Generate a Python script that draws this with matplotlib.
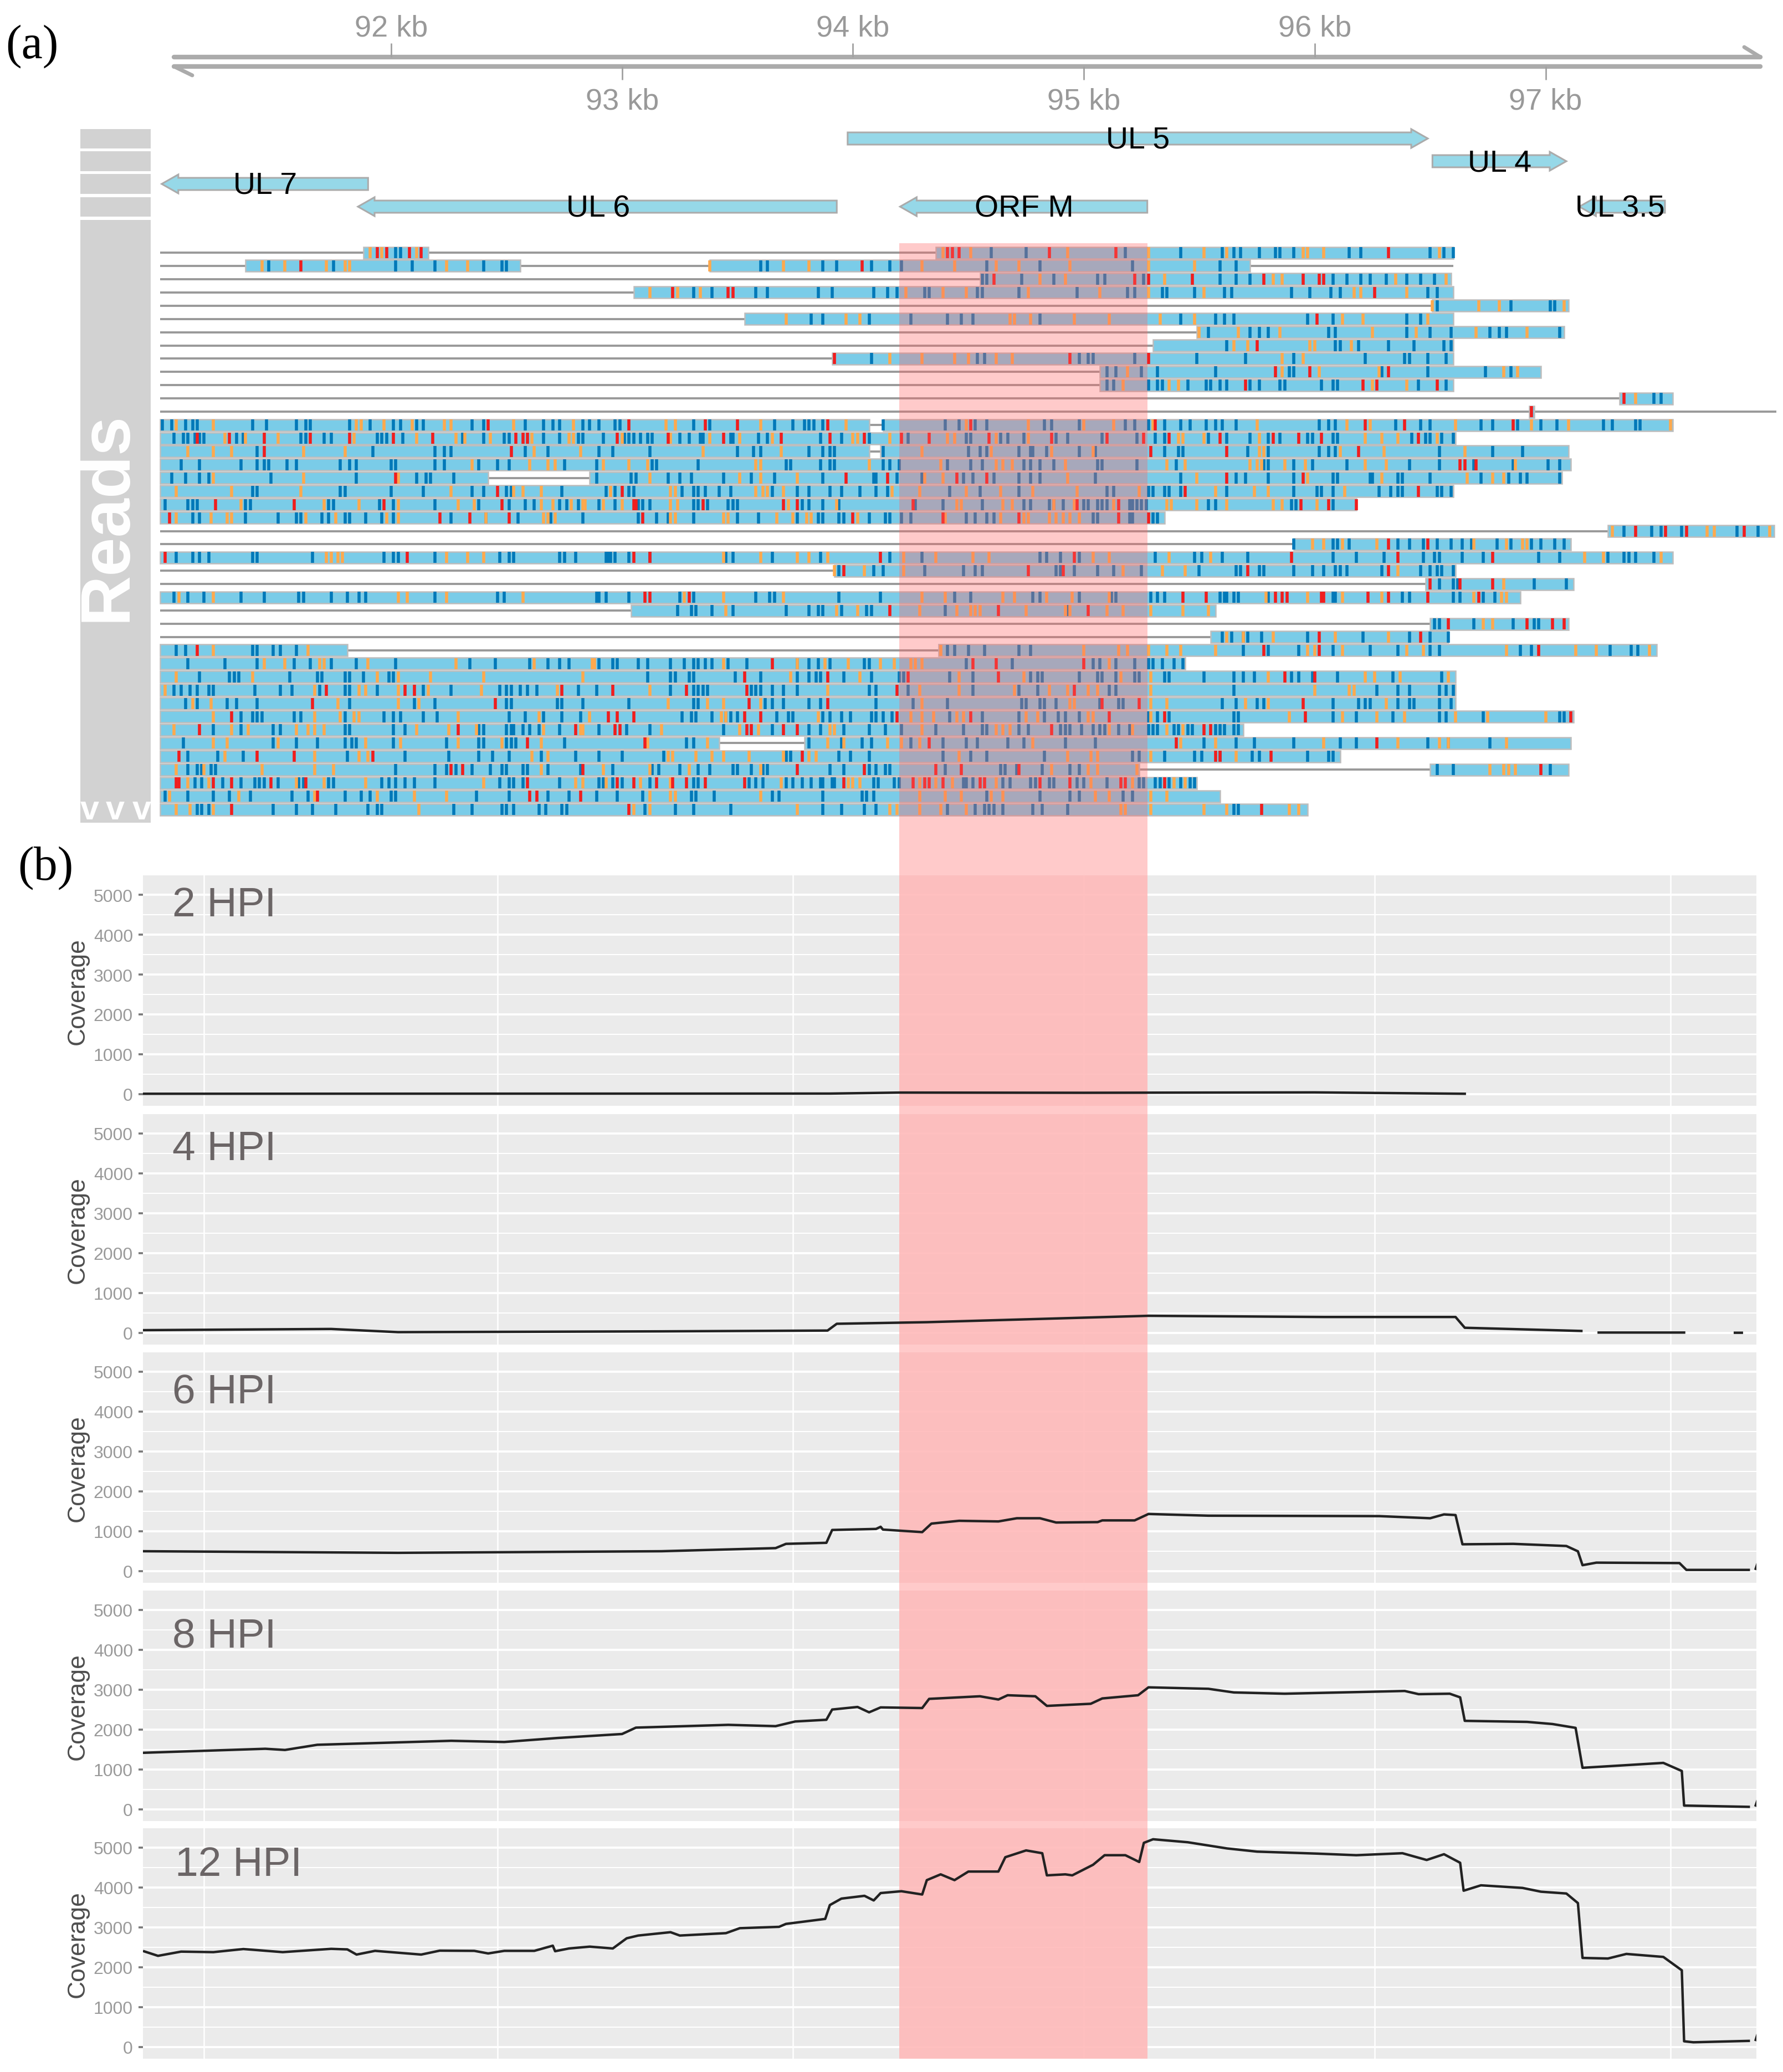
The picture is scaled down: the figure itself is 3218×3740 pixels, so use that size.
import numpy as np
import matplotlib
matplotlib.use("Agg")
import matplotlib.pyplot as plt

plt.rcParams['font.family'] = ['Liberation Sans', 'DejaVu Sans']

W, H = 3218, 3741
PX_PER_KB = 416.7
KB_LEFT = 92 - 706 / PX_PER_KB
KB_RIGHT = 92 + (W - 706) / PX_PER_KB

# genes
gene_names = ["UL 7", "UL 6", "UL 5", "UL 4", "ORF M", "UL 3.5"]
gene_tails = [91.90, 93.93, 93.977, 96.51, 95.275, 97.517]
gene_tips = [91.006, 91.856, 96.49, 97.09, 94.204, 97.146]
gene_tracks = [2, 3, 0, 1, 3, 3]
gene_label_x = [91.454, 92.896, 95.234, 96.80, 94.741, 97.323]

axis_ticks_top = [92, 94, 96]
axis_ticks_bottom = [93, 95, 97]

# position of the reads, in tens of bp (9101 = 91.01 kb)
block_rows = [0, 0, 1, 1, 2, 3, 4, 5, 6, 7, 8, 9, 10, 11, 12, 13, 13, 14, 15, 15, 16, 17, 17, 18, 19, 20, 21, 22, 23, 24,
              25, 26, 27, 28, 29, 30, 30, 31, 32, 33, 34, 35, 36, 37, 37, 38, 39, 39, 40, 41, 42]
block_starts = [9188, 9436, 9137, 9338, 9455, 9305, 9651, 9353, 9549, 9530, 9391, 9507, 9507, 9732, 9693, 9100, 9413,
                9100, 9100, 9412, 9100, 9100, 9286, 9100, 9100, 9100, 9727, 9591, 9100, 9392, 9648, 9100, 9304, 9650,
                9555, 9100, 9437, 9100, 9100, 9100, 9100, 9100, 9100, 9100, 9379, 9100, 9100, 9650, 9100, 9100, 9100]
block_ends = [9216, 9660, 9256, 9572, 9659, 9660, 9710, 9660, 9708, 9660, 9660, 9698, 9660, 9755, 9695, 9407, 9755,
              9661, 9407, 9710, 9711, 9242, 9707, 9660, 9618, 9535, 9799, 9711, 9755, 9661, 9712, 9689, 9557, 9710,
              9658, 9181, 9748, 9544, 9661, 9661, 9661, 9712, 9569, 9342, 9711, 9611, 9524, 9710, 9549, 9559, 9597]
backbone_ends = [9660, 9660, 9659, 9660, 9710, 9660, 9708, 9660, 9660, 9698, 9660, 9755, 9800, 9755, 9661, 9710, 9711,
                 9707, 9660, 9618, 9535, 9799, 9711, 9755, 9661, 9712, 9689, 9557, 9710, 9658, 9748, 9544, 9661, 9661,
                 9661, 9712, 9569, 9711, 9611, 9710, 9549, 9559, 9597]

blue_ticks = {
    0: [9202, 9204, 9460, 9475, 9518, 9542, 9560, 9565, 9568, 9576, 9583, 9585, 9591, 9615, 9620, 9650, 9656, 9660],
    1: [9147, 9175, 9202, 9209, 9219, 9240, 9248, 9250, 9360, 9363, 9387, 9393, 9408, 9416, 9421, 9458, 9481, 9521, 9559, 9566],
    2: [9456, 9458, 9473, 9487, 9506, 9509, 9526, 9559, 9566, 9572, 9608, 9614, 9620, 9624, 9631, 9640, 9646, 9652],
    3: [9331, 9339, 9358, 9363, 9385, 9391, 9409, 9415, 9419, 9431, 9433, 9454, 9456, 9472, 9497, 9519, 9522, 9534, 9536, 9548, 9561, 9564, 9590, 9598, 9607, 9611, 9649, 9653],
    4: [9653, 9685, 9702, 9704],
    5: [9382, 9387, 9407, 9425, 9441, 9447, 9452, 9481, 9542, 9557, 9561, 9565, 9597, 9608, 9640, 9646],
    6: [9554, 9572, 9576, 9580, 9606, 9609, 9640, 9650, 9659, 9676, 9680, 9683, 9706],
    7: [9562, 9609, 9611, 9619, 9632, 9643, 9656, 9659],
    8: [9408, 9454, 9457, 9498, 9502, 9504, 9522, 9549, 9570, 9591, 9622, 9639, 9641, 9649, 9657],
    9: [9510, 9514, 9525, 9532, 9557, 9589, 9591, 9629, 9649, 9674, 9685],
    10: [9510, 9513, 9528, 9532, 9534, 9545, 9553, 9555, 9559, 9562, 9572, 9576, 9585, 9587, 9603, 9608, 9610, 9645, 9657],
    11: [9747, 9750],
    13: [9101, 9105, 9111, 9114, 9116, 9140, 9146, 9159, 9163, 9165, 9182, 9191, 9201, 9204, 9211, 9214, 9235, 9240, 9258, 9266, 9270, 9273, 9283, 9286, 9290, 9297, 9299, 9331, 9338, 9366, 9374, 9379, 9381, 9383, 9387, 9413, 9440, 9446, 9453, 9458, 9483, 9486, 9498, 9518, 9522, 9528, 9535, 9542, 9546, 9553, 9557, 9560, 9566, 9602, 9606, 9609, 9635, 9646, 9650, 9672, 9677, 9688, 9698, 9705, 9725, 9729, 9739, 9741],
    14: [9106, 9110, 9112, 9115, 9117, 9119, 9133, 9136, 9161, 9163, 9171, 9174, 9194, 9196, 9198, 9205, 9231, 9240, 9249, 9251, 9266, 9273, 9281, 9283, 9292, 9301, 9303, 9305, 9308, 9311, 9313, 9325, 9329, 9334, 9335, 9347, 9348, 9359, 9363, 9386, 9395, 9407, 9424, 9449, 9451, 9464, 9467, 9474, 9488, 9493, 9508, 9523, 9531, 9535, 9554, 9562, 9572, 9580, 9585, 9597, 9599, 9608, 9610, 9642, 9648, 9650, 9655, 9660],
    15: [9142, 9192, 9219, 9223, 9226, 9258, 9268, 9290, 9296, 9312, 9350, 9357, 9360, 9381, 9387, 9390, 9392, 9413, 9450, 9455, 9458, 9472, 9477, 9478, 9484, 9498, 9505, 9535, 9541, 9543, 9571, 9580, 9602, 9606, 9609, 9654, 9677, 9690],
    16: [9109, 9117, 9135, 9142, 9145, 9147, 9155, 9159, 9178, 9182, 9185, 9200, 9202, 9219, 9223, 9238, 9246, 9251, 9275, 9289, 9313, 9315, 9333, 9371, 9373, 9386, 9390, 9392, 9413, 9416, 9420, 9441, 9451, 9456, 9474, 9477, 9481, 9487, 9506, 9508, 9523, 9540, 9578, 9580, 9591, 9599, 9614, 9641, 9654, 9669, 9686, 9701, 9706],
    17: [9105, 9111, 9117, 9121, 9148, 9185, 9211, 9215, 9217, 9227, 9289, 9304, 9306, 9320, 9325, 9330, 9344, 9356, 9366, 9387, 9409, 9410, 9419, 9430, 9448, 9452, 9461, 9472, 9477, 9481, 9505, 9542, 9566, 9570, 9580, 9591, 9608, 9610, 9624, 9625, 9636, 9638, 9650, 9672, 9684, 9689, 9692, 9706],
    18: [9140, 9142, 9178, 9180, 9200, 9214, 9235, 9240, 9250, 9252, 9274, 9293, 9297, 9303, 9305, 9326, 9331, 9333, 9336, 9342, 9347, 9365, 9376, 9381, 9390, 9395, 9403, 9410, 9415, 9442, 9455, 9472, 9510, 9513, 9528, 9530, 9535, 9537, 9542, 9562, 9591, 9601, 9603, 9608, 9628, 9633, 9636, 9638, 9653, 9655, 9659],
    19: [9102, 9112, 9114, 9116, 9137, 9139, 9173, 9175, 9195, 9201, 9219, 9238, 9251, 9258, 9262, 9273, 9276, 9281, 9290, 9297, 9307, 9309, 9312, 9331, 9333, 9337, 9346, 9348, 9350, 9378, 9381, 9387, 9394, 9427, 9439, 9456, 9474, 9477, 9485, 9487, 9491, 9500, 9502, 9506, 9508, 9510, 9520, 9521, 9523, 9525, 9527, 9554, 9557, 9590, 9592, 9608],
    20: [9114, 9117, 9137, 9151, 9159, 9161, 9170, 9173, 9180, 9182, 9189, 9196, 9201, 9226, 9241, 9255, 9269, 9283, 9307, 9315, 9320, 9331, 9350, 9359, 9376, 9385, 9387, 9394, 9396, 9407, 9414, 9416, 9421, 9425, 9449, 9453, 9458, 9461, 9504, 9506, 9520, 9521, 9530, 9532],
    21: [9734, 9746, 9750, 9759, 9783, 9792],
    22: [9591, 9608, 9610, 9615, 9636, 9641, 9647, 9653, 9659, 9664, 9668, 9679, 9685, 9694, 9698, 9704, 9708],
    23: [9107, 9114, 9117, 9121, 9140, 9142, 9166, 9197, 9201, 9203, 9219, 9247, 9251, 9253, 9273, 9275, 9280, 9294, 9293, 9295, 9297, 9303, 9312, 9345, 9348, 9365, 9386, 9416, 9430, 9481, 9484, 9490, 9498, 9531, 9548, 9551, 9560, 9571, 9608, 9618, 9630, 9647, 9652, 9654, 9664, 9673, 9697, 9706, 9727, 9734, 9736, 9739, 9747],
    24: [9394, 9409, 9413, 9431, 9448, 9453, 9456, 9488, 9490, 9496, 9506, 9513, 9525, 9550, 9566, 9568, 9576, 9578, 9591, 9599, 9604, 9609, 9611, 9614, 9629, 9646, 9650, 9653, 9655, 9660],
    25: [9654, 9660, 9662, 9695, 9709],
    26: [9106, 9112, 9119, 9135, 9145, 9160, 9162, 9174, 9181, 9186, 9189, 9219, 9246, 9249, 9290, 9289, 9293, 9303, 9325, 9331, 9358, 9364, 9366, 9394, 9412, 9444, 9451, 9478, 9481, 9498, 9512, 9514, 9529, 9532, 9535, 9559, 9561, 9562, 9565, 9567, 9580, 9608, 9609, 9638, 9641, 9660, 9663, 9673, 9678],
    27: [9324, 9330, 9332, 9339, 9348, 9371, 9381, 9385, 9387, 9395, 9406, 9408, 9440, 9493],
    28: [9652, 9654, 9669, 9686, 9695, 9697],
    29: [9560, 9564, 9569, 9571, 9577, 9597, 9621, 9641, 9650, 9658],
    30: [9107, 9111, 9140, 9142, 9149, 9152, 9159, 9441, 9444, 9450, 9457, 9472, 9477, 9569, 9580, 9593, 9608, 9624, 9636, 9650, 9654, 9689, 9694, 9728, 9737, 9740],
    31: [9112, 9128, 9142, 9158, 9165, 9174, 9185, 9202, 9234, 9245, 9260, 9268, 9273, 9277, 9290, 9296, 9298, 9307, 9311, 9321, 9327, 9331, 9333, 9336, 9339, 9346, 9354, 9376, 9381, 9385, 9390, 9405, 9407, 9449, 9469, 9504, 9507, 9514, 9522, 9528, 9530, 9534, 9539, 9543],
    32: [9117, 9130, 9132, 9134, 9156, 9168, 9170, 9180, 9182, 9188, 9199, 9201, 9311, 9321, 9323, 9329, 9331, 9349, 9360, 9376, 9381, 9384, 9386, 9396, 9408, 9420, 9422, 9442, 9452, 9477, 9480, 9482, 9498, 9506, 9508, 9514, 9522, 9524, 9535, 9537, 9552, 9565, 9569, 9574, 9590, 9593, 9599, 9610, 9634, 9655],
    33: [9106, 9109, 9113, 9116, 9121, 9123, 9141, 9152, 9157, 9169, 9180, 9182, 9194, 9214, 9226, 9247, 9250, 9252, 9256, 9259, 9263, 9281, 9289, 9321, 9331, 9333, 9335, 9337, 9356, 9358, 9360, 9365, 9370, 9376, 9407, 9410, 9424, 9452, 9472, 9480, 9511, 9514, 9565, 9627, 9636, 9641, 9654, 9657, 9660],
    34: [9111, 9116, 9129, 9133, 9142, 9182, 9210, 9219, 9250, 9252, 9272, 9274, 9283, 9303, 9331, 9333, 9362, 9365, 9370, 9381, 9386, 9410, 9426, 9441, 9473, 9475, 9481, 9483, 9488, 9507, 9515, 9517, 9560, 9566, 9575, 9578, 9608, 9619, 9622, 9624, 9636, 9641, 9643, 9654, 9659],
    35: [9135, 9140, 9142, 9144, 9158, 9161, 9180, 9197, 9201, 9204, 9214, 9220, 9251, 9258, 9266, 9274, 9282, 9326, 9330, 9332, 9339, 9345, 9347, 9350, 9367, 9372, 9374, 9387, 9390, 9395, 9399, 9408, 9410, 9413, 9417, 9442, 9456, 9472, 9483, 9489, 9492, 9498, 9528, 9532, 9537, 9565, 9567, 9608, 9618, 9634, 9654, 9657, 9673, 9706, 9708],
    36: [9123, 9135, 9149, 9152, 9180, 9182, 9201, 9206, 9238, 9240, 9250, 9252, 9253, 9257, 9260, 9264, 9273, 9290, 9302, 9312, 9344, 9365, 9381, 9386, 9396, 9407, 9414, 9421, 9436, 9448, 9456, 9458, 9472, 9476, 9490, 9492, 9494, 9499, 9504, 9507, 9509, 9515, 9520, 9528, 9530, 9532, 9539, 9541, 9545, 9547, 9557, 9559, 9561, 9565, 9567],
    37: [9110, 9149, 9159, 9168, 9180, 9183, 9185, 9201, 9224, 9238, 9240, 9250, 9252, 9254, 9275, 9328, 9331, 9381, 9395, 9404, 9408, 9425, 9439, 9449, 9454, 9467, 9474, 9492, 9505, 9552, 9566, 9574, 9591, 9611, 9618, 9649, 9658, 9676],
    38: [9112, 9125, 9136, 9181, 9206, 9225, 9238, 9244, 9251, 9265, 9280, 9290, 9300, 9318, 9371, 9373, 9394, 9399, 9407, 9439, 9451, 9458, 9483, 9521, 9524, 9535, 9548, 9551, 9559, 9573, 9576, 9597, 9606, 9608],
    39: [9112, 9116, 9118, 9122, 9124, 9202, 9219, 9224, 9228, 9235, 9243, 9248, 9250, 9257, 9259, 9268, 9282, 9296, 9313, 9316, 9325, 9333, 9338, 9348, 9350, 9356, 9361, 9363, 9390, 9396, 9407, 9410, 9414, 9416, 9440, 9464, 9466, 9471, 9482, 9494, 9498, 9653, 9660, 9702],
    40: [9115, 9118, 9127, 9135, 9141, 9143, 9145, 9151, 9160, 9162, 9173, 9175, 9196, 9199, 9202, 9206, 9210, 9219, 9247, 9251, 9253, 9257, 9273, 9290, 9292, 9296, 9300, 9312, 9331, 9333, 9355, 9358, 9361, 9371, 9374, 9378, 9382, 9386, 9387, 9391, 9392, 9409, 9411, 9418, 9420, 9448, 9449, 9452, 9465, 9468, 9477, 9479, 9485, 9487, 9497, 9500, 9510, 9524, 9526, 9531, 9533, 9537, 9542, 9546, 9548],
    41: [9102, 9112, 9123, 9130, 9139, 9157, 9164, 9180, 9187, 9191, 9200, 9202, 9237, 9251, 9268, 9277, 9289, 9298, 9309, 9330, 9332, 9340, 9365, 9368, 9387, 9404, 9406, 9409, 9458, 9481, 9494, 9498, 9517, 9521],
    42: [9116, 9118, 9121, 9149, 9159, 9166, 9176, 9190, 9194, 9196, 9227, 9235, 9248, 9250, 9253, 9264, 9267, 9274, 9276, 9310, 9323, 9331, 9347, 9387, 9395, 9405, 9410, 9441, 9453, 9457, 9459, 9461, 9465, 9478, 9482, 9493, 9565, 9567],
}
orange_ticks = {
    0: [9191, 9196, 9211, 9439, 9451, 9493, 9528, 9552, 9562, 9595, 9597, 9604, 9654],
    1: [9144, 9154, 9172, 9180, 9182, 9224, 9233, 9338, 9370, 9381, 9430, 9444, 9462, 9472, 9494, 9528, 9548],
    2: [9481, 9492, 9535, 9582, 9586, 9635, 9657],
    3: [9312, 9322, 9324, 9334, 9423, 9439, 9449, 9476, 9507, 9528, 9552, 9617, 9620, 9640],
    4: [9651, 9671, 9680, 9708],
    5: [9371, 9397, 9403, 9468, 9470, 9477, 9496, 9511, 9533, 9548, 9612, 9621, 9649],
    6: [9550, 9567, 9585, 9625, 9644, 9670, 9692],
    7: [9565, 9571, 9598, 9600, 9616],
    8: [9416, 9430, 9444, 9450, 9462, 9469, 9586, 9595],
    9: [9519, 9586, 9602, 9628, 9682, 9688],
    10: [9517, 9537, 9541, 9625, 9640],
    11: [9739],
    13: [9107, 9123, 9185, 9187, 9197, 9209, 9223, 9226, 9253, 9279, 9319, 9323, 9360, 9397, 9449, 9476, 9500, 9513, 9530, 9575, 9614, 9624, 9661, 9694, 9710, 9754],
    14: [9128, 9137, 9151, 9184, 9211, 9228, 9232, 9243, 9261, 9277, 9279, 9300, 9321, 9338, 9351, 9365, 9400, 9402, 9416, 9441, 9444, 9462, 9476, 9541, 9543, 9552, 9576, 9622, 9629, 9636, 9653],
    15: [9112, 9123, 9131, 9162, 9180, 9262, 9282, 9335, 9369, 9430, 9460, 9486, 9504, 9576, 9578, 9611, 9630, 9665],
    16: [9235, 9260, 9268, 9271, 9292, 9303, 9311, 9358, 9360, 9407, 9438, 9462, 9465, 9469, 9492, 9536, 9544, 9572, 9575, 9577, 9587, 9596, 9622, 9631, 9687],
    17: [9123, 9162, 9203, 9312, 9351, 9360, 9376, 9431, 9439, 9493, 9549, 9597, 9629, 9666, 9677, 9682],
    18: [9107, 9131, 9161, 9226, 9253, 9257, 9265, 9295, 9321, 9323, 9358, 9361, 9363, 9370, 9417, 9429, 9449, 9464, 9478, 9497, 9524, 9557, 9574, 9580, 9613],
    19: [9135, 9171, 9186, 9203, 9229, 9236, 9265, 9270, 9278, 9284, 9283, 9292, 9300, 9321, 9324, 9372, 9393, 9445, 9447, 9465, 9469, 9487, 9496, 9513, 9536, 9538, 9549, 9562, 9582, 9586, 9601],
    20: [9107, 9122, 9129, 9131, 9163, 9176, 9198, 9203, 9241, 9266, 9268, 9271, 9321, 9323, 9344, 9346, 9367, 9374, 9380, 9382, 9402, 9440, 9464, 9474, 9476, 9485, 9488, 9491, 9494, 9498],
    21: [9729, 9770, 9773, 9797],
    22: [9599, 9604, 9612, 9627, 9669, 9683, 9690, 9692],
    23: [9172, 9174, 9177, 9179, 9224, 9233, 9240, 9344, 9360, 9376, 9381, 9389, 9422, 9436, 9452, 9459, 9504, 9511, 9537, 9555, 9717, 9725, 9750],
    24: [9392, 9405, 9422, 9517, 9534, 9544, 9636],
    25: [9682],
    26: [9108, 9123, 9203, 9207, 9224, 9257, 9327, 9344, 9370, 9430, 9440, 9465, 9470, 9484, 9495, 9511, 9579, 9597, 9612, 9629, 9669, 9681, 9683],
    27: [9345, 9393, 9402, 9429, 9445, 9451, 9453, 9455, 9475, 9492, 9494, 9510, 9517, 9529, 9543, 9554],
    28: [9673, 9677],
    29: [9562, 9569, 9582, 9609, 9632],
    30: [9123, 9116, 9164, 9438, 9500, 9515, 9519, 9528, 9536, 9542, 9557, 9597, 9600, 9612, 9640, 9647, 9683, 9713, 9722, 9745],
    31: [9145, 9154, 9169, 9171, 9190, 9228, 9262, 9288, 9287, 9344, 9376, 9388, 9398, 9412, 9418, 9425, 9427, 9430, 9511],
    32: [9107, 9140, 9194, 9203, 9217, 9240, 9283, 9373, 9403, 9446, 9474, 9516, 9529, 9580, 9622, 9626, 9637, 9658],
    33: [9102, 9167, 9186, 9189, 9203, 9216, 9239, 9272, 9312, 9389, 9429, 9446, 9470, 9485, 9493, 9502, 9506, 9529, 9600, 9615, 9617],
    34: [9114, 9122, 9177, 9203, 9212, 9320, 9337, 9344, 9360, 9430, 9494, 9496, 9529, 9536, 9570, 9580, 9631],
    35: [9123, 9167, 9178, 9184, 9186, 9229, 9264, 9286, 9343, 9345, 9385, 9425, 9430, 9435, 9445, 9448, 9475, 9480, 9502, 9504, 9529, 9589, 9612, 9627, 9639, 9661, 9675, 9700],
    36: [9106, 9131, 9138, 9159, 9164, 9167, 9171, 9211, 9225, 9237, 9266, 9283, 9282, 9317, 9351, 9359, 9390, 9392, 9430, 9462, 9465, 9468, 9511, 9521, 9536, 9543],
    37: [9123, 9129, 9151, 9189, 9204, 9229, 9248, 9265, 9311, 9337, 9389, 9396, 9415, 9421, 9429, 9478, 9542, 9557, 9604, 9636, 9654, 9658, 9683],
    38: [9128, 9167, 9186, 9190, 9261, 9268, 9320, 9322, 9332, 9339, 9344, 9355, 9370, 9381, 9384, 9446, 9493, 9503, 9506, 9529, 9566],
    39: [9107, 9119, 9144, 9167, 9175, 9265, 9292, 9312, 9329, 9360, 9486, 9502, 9506, 9523, 9676, 9682, 9684, 9687],
    40: [9112, 9121, 9159, 9171, 9189, 9240, 9280, 9283, 9293, 9308, 9321, 9369, 9398, 9400, 9403, 9429, 9436, 9443, 9462, 9503, 9521, 9539, 9544],
    41: [9104, 9134, 9167, 9194, 9210, 9224, 9312, 9321, 9323, 9360, 9429, 9440, 9447, 9460, 9465, 9505, 9511, 9529, 9536],
    42: [9107, 9113, 9123, 9212, 9305, 9312, 9376, 9416, 9419, 9429, 9438, 9449, 9516, 9518, 9529, 9552, 9562, 9589, 9593],
}
red_ticks = {
    0: [9194, 9198, 9208, 9213, 9441, 9443, 9446, 9485, 9514, 9632],
    1: [9161, 9404],
    2: [9461, 9522, 9528, 9547, 9578, 9595, 9602, 9604],
    3: [9322, 9346, 9348, 9626],
    5: [9601],
    7: [9575],
    8: [9392, 9494, 9528],
    9: [9583, 9598, 9632],
    10: [9570, 9621, 9627, 9653],
    11: [9734],
    12: [9694],
    13: [9242, 9303, 9336, 9350, 9389, 9451, 9531, 9622, 9639, 9686],
    14: [9116, 9130, 9145, 9165, 9182, 9201, 9218, 9254, 9257, 9259, 9298, 9320, 9344, 9369, 9390, 9405, 9421, 9433, 9459, 9486, 9510, 9526, 9537, 9559, 9582, 9593, 9603, 9645],
    15: [9145, 9252, 9529, 9562, 9619],
    16: [9663, 9665, 9670],
    17: [9202, 9397, 9415, 9445, 9458, 9562, 9595],
    18: [9246, 9300, 9544, 9645],
    19: [9124, 9158, 9197, 9248, 9305, 9306, 9335, 9370, 9376, 9426, 9497, 9515, 9594, 9606, 9618],
    20: [9104, 9221, 9234, 9251, 9309, 9400, 9439, 9472, 9515, 9528],
    21: [9739, 9752, 9761, 9786],
    22: [9632, 9649],
    23: [9102, 9207, 9305, 9312, 9412, 9496, 9590, 9636, 9677],
    24: [9396, 9476, 9491, 9571, 9632],
    25: [9650, 9663, 9677],
    26: [9310, 9312, 9329, 9543, 9553, 9583, 9586, 9588, 9603, 9604, 9623, 9632, 9649, 9671],
    27: [9416, 9463, 9502],
    28: [9658, 9692, 9703, 9708],
    29: [9602, 9646],
    30: [9116, 9578, 9602, 9697],
    31: [9365, 9452, 9462, 9500],
    32: [9353, 9389, 9424, 9463, 9587, 9600],
    33: [9172, 9206, 9210, 9274, 9296, 9328, 9354, 9419, 9496],
    34: [9166, 9245, 9355, 9389, 9508, 9524, 9595],
    35: [9131, 9294, 9298, 9305, 9353, 9360, 9419, 9451, 9511, 9535, 9596, 9711],
    36: [9117, 9229, 9280, 9297, 9299, 9354, 9356, 9370, 9376, 9486, 9552, 9555],
    37: [9259, 9310, 9433, 9540, 9627],
    38: [9108, 9142, 9158, 9192, 9378, 9557, 9559, 9581],
    39: [9226, 9231, 9283, 9376, 9405, 9436, 9447, 9472, 9698],
    40: [9107, 9108, 9123, 9131, 9148, 9163, 9259, 9298, 9305, 9315, 9322, 9328, 9336, 9353, 9396, 9426, 9431, 9433, 9439, 9455, 9457, 9481, 9494, 9516, 9518, 9535],
    41: [9168, 9260, 9263, 9282],
    42: [9131, 9303, 9577],
}

# coverage curves
hpi_names = ["2 HPI", "4 HPI", "6 HPI", "8 HPI", "12 HPI"]
label_values = [4750, 4620, 4480, 4350, 4580]

cov2_x = [90.93, 93.9, 94.2, 95.0, 96.0, 96.65]
cov2_y = [10, 15, 40, 35, 45, 10]

cov4_x = [90.93, 91.74, 92.03, 93.17, 93.89, 93.93, 94.32, 95.28, 96.04, 96.61, 96.65, 97.155, np.nan, 97.23, 97.60, np.nan, 97.82, 97.85]
cov4_y = [70, 100, 20, 40, 60, 230, 270, 430, 400, 400, 130, 50, np.nan, 10, 10, np.nan, 5, 5]

cov6_x = [90.93, 92.03, 93.17, 93.665, 93.71, 93.885, 93.91, 94.10, 94.12, 94.13, 94.30, 94.34, 94.46, 94.63, 94.71, 94.81, 94.88, 95.06, 95.08, 95.22, 95.28, 95.54, 96.28, 96.50, 96.56, 96.61, 96.64, 96.86, 97.09, 97.14, 97.16, 97.22, 97.58, 97.61, 97.88, np.nan, 97.91, 97.92]
cov6_y = [500, 460, 500, 578, 685, 711, 1033, 1059, 1113, 1043, 979, 1193, 1263, 1247, 1327, 1327, 1220, 1230, 1273, 1273, 1434, 1391, 1380, 1327, 1423, 1407, 674, 685, 631, 498, 150, 214, 203, 32, 32, np.nan, 60, 230]

cov8_x = [90.93, 91.455, 91.54, 91.68, 92.26, 92.49, 92.72, 93.00, 93.06, 93.46, 93.665, 93.75, 93.885, 93.91, 94.02, 94.07, 94.12, 94.30, 94.33, 94.55, 94.63, 94.67, 94.79, 94.84, 95.03, 95.08, 95.235, 95.28, 95.54, 95.65, 95.87, 96.39, 96.45, 96.585, 96.63, 96.65, 96.92, 97.03, 97.13, 97.16, 97.36, 97.51, 97.59, 97.60, 97.88, np.nan, 97.91, 97.92]
cov8_y = [1420, 1520, 1490, 1620, 1720, 1690, 1790, 1890, 2050, 2120, 2087, 2204, 2247, 2504, 2568, 2434, 2557, 2541, 2771, 2836, 2755, 2862, 2836, 2595, 2648, 2782, 2862, 3060, 3023, 2932, 2900, 2969, 2889, 2900, 2809, 2220, 2194, 2140, 2044, 1043, 1113, 1166, 963, 96, 64, np.nan, 100, 267]

cov12_x = [90.93, 90.99, 91.09, 91.23, 91.36, 91.53, 91.74, 91.81, 91.85, 91.93, 92.13, 92.21, 92.36, 92.42, 92.49, 92.62, 92.70, 92.71, 92.77, 92.86, 92.96, 93.02, 93.07, 93.21, 93.25, 93.45, 93.51, 93.68, 93.71, 93.88, 93.90, 93.95, 94.05, 94.09, 94.12, 94.21, 94.30, 94.32, 94.38, 94.44, 94.50, 94.63, 94.66, 94.75, 94.82, 94.84, 94.92, 94.95, 95.04, 95.09, 95.18, 95.24, 95.26, 95.30, 95.45, 95.62, 95.75, 96.01, 96.18, 96.38, 96.485, 96.56, 96.63, 96.645, 96.72, 96.90, 96.98, 97.09, 97.14, 97.16, 97.27, 97.35, 97.51, 97.59, 97.60, 97.64, 97.88, np.nan, 97.91, 97.92]
cov12_y = [2400, 2287, 2393, 2380, 2458, 2380, 2463, 2449, 2319, 2412, 2319, 2417, 2412, 2347, 2412, 2412, 2542, 2403, 2472, 2518, 2472, 2727, 2796, 2880, 2796, 2856, 2981, 3014, 3088, 3213, 3560, 3722, 3792, 3676, 3861, 3907, 3825, 4185, 4330, 4185, 4400, 4400, 4760, 4930, 4860, 4305, 4330, 4305, 4570, 4810, 4810, 4640, 5120, 5210, 5135, 4980, 4900, 4850, 4810, 4860, 4690, 4835, 4620, 3920, 4055, 3990, 3895, 3850, 3610, 2235, 2220, 2335, 2260, 1925, 145, 120, 155, np.nan, 180, 360]

cov_x = [cov2_x, cov4_x, cov6_x, cov8_x, cov12_x]
cov_y = [cov2_y, cov4_y, cov6_y, cov8_y, cov12_y]
grid_kb = [91.19, 92.46, 93.74, 95.0, 96.26, 97.54]
y_ticks = [0, 1000, 2000, 3000, 4000, 5000]
y_minor = [500, 1500, 2500, 3500, 4500]
band_start, band_end = 94.20, 95.275

# layout in pixels
ROW0 = 457
ROW_STEP = 23.93
TRACK_Y = [251, 292, 333, 374]
PANEL_ZERO = [1976, 2407, 2837, 3267, 3696]
PANEL_LEFT, PANEL_RIGHT = 258, 3170
PX_PER_UNIT = 0.072
SIDE_TOPS = [234, 274, 315, 357, 398]
SIDE_BOTTOMS = [269, 310, 351, 392, 1486]


def kb(px):
    return 92 + (px - 706) / PX_PER_KB


def row_y(row):
    return ROW0 + ROW_STEP * np.asarray(row)


def draw_gene(ax, tail, tip, y):
    # arrow polygon, the head has a fixed length on the page
    d = 1 if tip > tail else -1
    head = d * 30 / PX_PER_KB
    xs = [tail, tip - head, tip - head, tip, tip - head, tip - head, tail]
    ys = [y - 11, y - 11, y - 17, y, y + 17, y + 11, y + 11]
    ax.fill(xs, ys, facecolor="#96D8E8", edgecolor="#ABABAB", linewidth=2.2, zorder=3)


def draw_top(ax):
    # genome axis
    ax.plot([91.06, 97.93], [104, 104], color="#ABABAB", lw=6, solid_capstyle="round")
    ax.plot([91.06, 97.93], [121, 121], color="#ABABAB", lw=6, solid_capstyle="round")
    ax.plot([kb(3148), 97.93], [86, 104], color="#ABABAB", lw=5, solid_capstyle="round")
    ax.plot([91.06, kb(347)], [121, 137], color="#ABABAB", lw=5, solid_capstyle="round")
    ax.vlines(axis_ticks_top, 79, 104, color="#A0A0A0", lw=2)
    ax.vlines(axis_ticks_bottom, 121, 145, color="#A0A0A0", lw=2)
    for t in axis_ticks_top:
        ax.text(t, 52, f"{t} kb", color="#999999", fontsize=39, ha="center", va="center")
    for t in axis_ticks_bottom:
        ax.text(t, 184, f"{t} kb", color="#999999", fontsize=39, ha="center", va="center")

    # genes
    for name, tail, tip, track, lx in zip(gene_names, gene_tails, gene_tips, gene_tracks, gene_label_x):
        y = TRACK_Y[track]
        draw_gene(ax, tail, tip, y)
        ax.text(lx, y + 3, name, color="black", fontsize=40, ha="center", va="center", zorder=4)

    # side bar
    for top, bottom in zip(SIDE_TOPS, SIDE_BOTTOMS):
        ax.fill([kb(145), kb(272), kb(272), kb(145)], [top, top, bottom, bottom], color="#D2D2D2", lw=0)
    ax.text(kb(194), 932, "Reads", color="white", fontsize=91, fontweight="bold",
            rotation=90, ha="center", va="center")
    for px in [162, 208, 256]:
        ax.text(kb(px), 1464, "v", color="white", fontsize=44, fontweight="bold", ha="center", va="center")

    ax.text(kb(58), 84, "(a)", family="Liberation Serif", fontsize=62, ha="center", va="center")
    ax.text(kb(82), 1567, "(b)", family="Liberation Serif", fontsize=62, ha="center", va="center")


def draw_reads(ax):
    rows = np.arange(len(backbone_ends))
    ax.hlines(row_y(rows), 91.0, np.array(backbone_ends) / 100, color="#999999", lw=2.8, zorder=2)
    starts = np.array(block_starts) / 100
    ends = np.array(block_ends) / 100
    ax.barh(row_y(block_rows), ends - starts, left=starts, height=21,
            facecolor="#7ACCE8", edgecolor="#BDBDBD", linewidth=1.8, zorder=3)
    for ticks, color in [(blue_ticks, "#0078B8"), (orange_ticks, "#FFA94D"), (red_ticks, "#F01E1E")]:
        for row, values in ticks.items():
            y = row_y(row)
            ax.vlines(np.array(values) / 100, y - 10, y + 10, color=color, lw=4, zorder=4)


def draw_panel(fig, ax_top, i):
    zero = PANEL_ZERO[i]
    top, bottom = zero - 395, zero + 21
    ax = fig.add_axes([PANEL_LEFT / W, 1 - bottom / H, (PANEL_RIGHT - PANEL_LEFT) / W, (bottom - top) / H], zorder=1)
    ax.set_facecolor("#EBEBEB")
    ax.set_xlim(kb(PANEL_LEFT), kb(PANEL_RIGHT))
    ax.set_ylim(-21 / PX_PER_UNIT, 395 / PX_PER_UNIT)
    for s in ax.spines.values():
        s.set_visible(False)
    ax.set_axisbelow(True)
    ax.set_yticks(y_ticks)
    ax.set_yticks(y_minor, minor=True)
    ax.set_xticks(grid_kb)
    ax.grid(True, which="major", axis="y", color="white", lw=2.8)
    ax.grid(True, which="minor", axis="y", color="white", lw=1.5)
    ax.grid(True, which="major", axis="x", color="white", lw=1.8)
    ax.tick_params(axis="y", which="major", length=6, width=2.6, color="#777777", labelcolor="#9A9A9A",
                   labelsize=23, pad=7)
    ax.tick_params(axis="y", which="minor", length=0)
    ax.tick_params(axis="x", length=0, labelbottom=False)
    ax.axvspan(band_start, band_end, color="#FFB9B9", alpha=0.9, lw=0, zorder=1)
    ax.plot(cov_x[i], cov_y[i], color="#222222", lw=3.2, solid_joinstyle="round", zorder=2)
    ax.text(kb(311 if i < 4 else 316), label_values[i], hpi_names[i], color="#6B6566", fontsize=54, ha="left", va="center")
    ax_top.text(kb(140), zero - 186, "Coverage", color="#4D4D4D", fontsize=32, rotation=90, ha="center", va="center")


def main():
    fig = plt.figure(figsize=(W / 100, H / 100), dpi=100)
    ax = fig.add_axes([0, 0, 1, 1], zorder=2)
    ax.set_xlim(KB_LEFT, KB_RIGHT)
    ax.set_ylim(H, 0)
    ax.axis("off")
    ax.patch.set_alpha(0)

    draw_top(ax)
    draw_reads(ax)
    for i in range(len(hpi_names)):
        draw_panel(fig, ax, i)

    # highlighted region over the reads and in the gaps between the panels
    gap_tops = [440] + [z + 21 for z in PANEL_ZERO[:-1]]
    gap_bottoms = [z - 395 for z in PANEL_ZERO]
    for g_top, g_bottom in zip(gap_tops, gap_bottoms):
        ax.fill_between([band_start, band_end], g_top, g_bottom, color="#FF6464", alpha=0.34, lw=0, zorder=10)

    fig.savefig("out.png", dpi=100)


main()
